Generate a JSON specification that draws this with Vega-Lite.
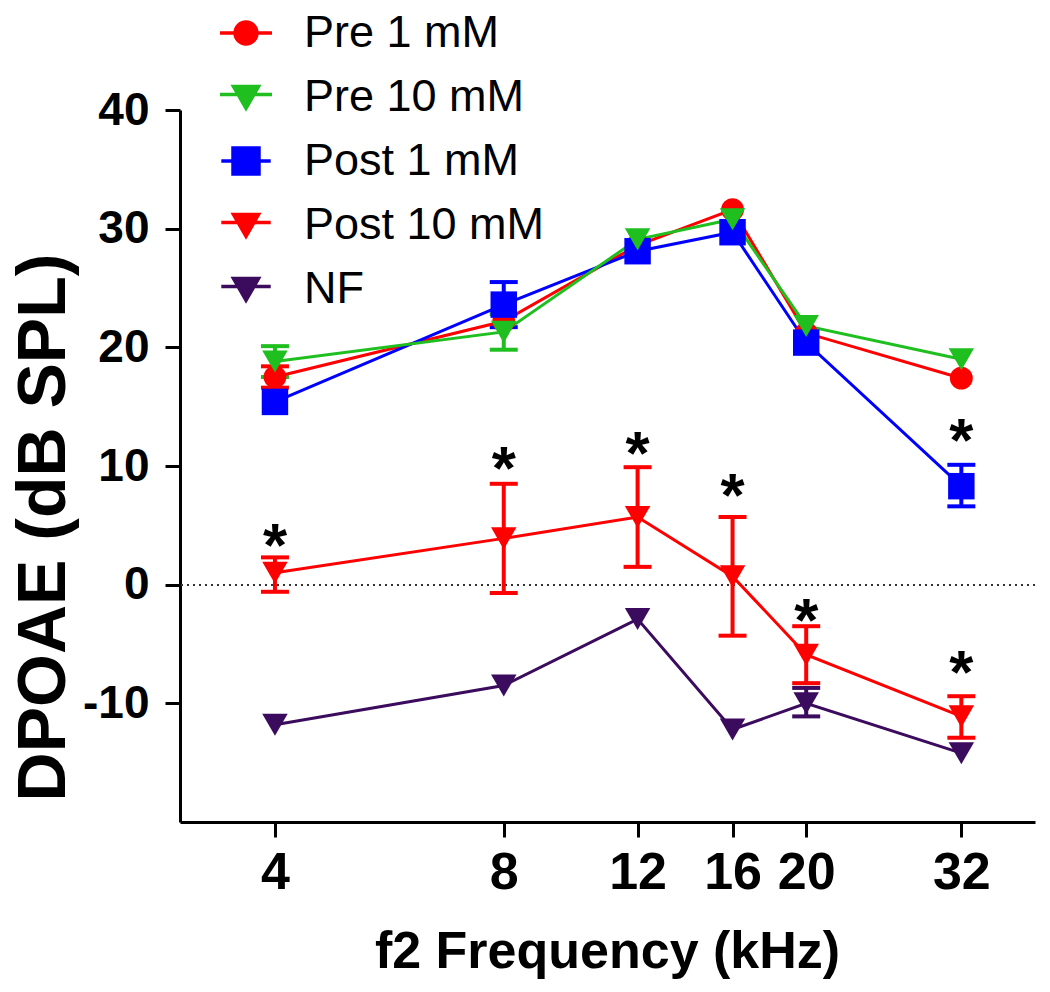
{
  "$schema": "https://vega.github.io/schema/vega-lite/v6.json",
  "autosize": {"type": "none"},
  "width": 855,
  "height": 712,
  "padding": {"left": 180, "top": 110, "right": 15, "bottom": 170},
  "background": "white",
  "config": {
    "view": {"stroke": null},
    "axis": {
      "domainColor": "black", "domainWidth": 3, "tickColor": "black", "tickWidth": 3, "tickSize": 15,
      "grid": false, "labelColor": "black", "titleColor": "black"
    },
    "legend": {
      "orient": "none", "legendX": 38, "legendY": -105, "padding": 0,
      "symbolSize": 2704, "symbolStrokeWidth": 3.5, "symbolOpacity": 1,
      "labelFont": "Liberation Sans", "labelFontSize": 45, "labelColor": "black", "labelOffset": 30,
      "rowPadding": 13, "labelLimit": 400
    }
  },
  "datasets": {
    "main": [
      {"series": "NF", "freq": 4, "mean": -11.8, "lo": null, "hi": null},
      {"series": "NF", "freq": 8, "mean": -8.5, "lo": null, "hi": null},
      {"series": "NF", "freq": 12, "mean": -2.9, "lo": null, "hi": null},
      {"series": "NF", "freq": 16, "mean": -12.2, "lo": null, "hi": null},
      {"series": "NF", "freq": 20, "mean": -10.0, "lo": -11.1, "hi": -8.7},
      {"series": "NF", "freq": 32, "mean": -14.2, "lo": null, "hi": null},
      {"series": "Post 10 mM", "freq": 4, "mean": 1.0, "lo": -0.6, "hi": 2.3},
      {"series": "Post 10 mM", "freq": 8, "mean": 3.9, "lo": -0.7, "hi": 8.5},
      {"series": "Post 10 mM", "freq": 12, "mean": 5.7, "lo": 1.5, "hi": 9.9},
      {"series": "Post 10 mM", "freq": 16, "mean": 0.7, "lo": -4.3, "hi": 5.7},
      {"series": "Post 10 mM", "freq": 20, "mean": -5.9, "lo": -8.3, "hi": -3.5},
      {"series": "Post 10 mM", "freq": 32, "mean": -11.1, "lo": -12.9, "hi": -9.4},
      {"series": "Pre 1 mM", "freq": 4, "mean": 17.5, "lo": 16.6, "hi": 18.4},
      {"series": "Pre 1 mM", "freq": 8, "mean": 22.2, "lo": null, "hi": null},
      {"series": "Pre 1 mM", "freq": 12, "mean": 28.6, "lo": null, "hi": null},
      {"series": "Pre 1 mM", "freq": 16, "mean": 31.6, "lo": null, "hi": null},
      {"series": "Pre 1 mM", "freq": 20, "mean": 21.2, "lo": null, "hi": null},
      {"series": "Pre 1 mM", "freq": 32, "mean": 17.4, "lo": null, "hi": null},
      {"series": "Post 1 mM", "freq": 4, "mean": 15.4, "lo": null, "hi": null},
      {"series": "Post 1 mM", "freq": 8, "mean": 23.6, "lo": 21.7, "hi": 25.5},
      {"series": "Post 1 mM", "freq": 12, "mean": 28.1, "lo": null, "hi": null},
      {"series": "Post 1 mM", "freq": 16, "mean": 29.7, "lo": null, "hi": null},
      {"series": "Post 1 mM", "freq": 20, "mean": 20.4, "lo": null, "hi": null},
      {"series": "Post 1 mM", "freq": 32, "mean": 8.3, "lo": 6.6, "hi": 10.1},
      {"series": "Pre 10 mM", "freq": 4, "mean": 18.8, "lo": 17.5, "hi": 20.1},
      {"series": "Pre 10 mM", "freq": 8, "mean": 21.3, "lo": 19.8, "hi": 22.8},
      {"series": "Pre 10 mM", "freq": 12, "mean": 29.1, "lo": null, "hi": null},
      {"series": "Pre 10 mM", "freq": 16, "mean": 30.8, "lo": null, "hi": null},
      {"series": "Pre 10 mM", "freq": 20, "mean": 21.8, "lo": null, "hi": null},
      {"series": "Pre 10 mM", "freq": 32, "mean": 19.0, "lo": null, "hi": null}
    ],
    "stars": [
      {"freq": 4, "pos": 4.5},
      {"freq": 8, "pos": 11.0},
      {"freq": 12, "pos": 12.3},
      {"freq": 16, "pos": 8.7},
      {"freq": 20, "pos": -1.8},
      {"freq": 32, "pos": -6.2},
      {"freq": 32, "pos": 13.4}
    ]
  },
  "data": {"name": "main"},
  "encoding": {
    "x": {
      "field": "freq", "type": "quantitative",
      "scale": {"type": "log", "base": 2, "domain": [3, 40], "nice": false},
      "axis": {
        "values": [4, 8, 12, 16, 20, 32], "title": "f2 Frequency (kHz)",
        "labelFont": "Liberation Sans", "labelFontWeight": "bold", "labelFontSize": 52,
        "labelPadding": 10, "labelFlush": false, "labelOverlap": false,
        "titleFont": "Liberation Sans", "titleFontWeight": "bold", "titleFontSize": 52,
        "titleBaseline": "alphabetic", "titleX": 427, "titleY": 145, "titleAlign": "center"
      }
    },
    "y": {
      "type": "quantitative",
      "scale": {"domain": [-20, 40], "nice": false, "zero": false},
      "axis": {
        "values": [-10, 0, 10, 20, 30, 40], "title": "DPOAE (dB SPL)", "labelExpr": "replace(datum.label, '−', '-')",
        "labelFont": "Liberation Sans", "labelFontWeight": "bold", "labelFontSize": 46, "labelPadding": 16,
        "labelFlush": false, "labelOverlap": false,
        "titleFont": "Liberation Sans", "titleFontWeight": "bold", "titleFontSize": 68,
        "titleAngle": 270, "titleBaseline": "alphabetic", "titleAlign": "center", "titleX": -116, "titleY": 417
      }
    }
  },
  "layer": [
    {
      "mark": {"type": "rule", "strokeDash": [2, 4], "strokeWidth": 1.5, "color": "#333333"},
      "encoding": {"y": {"datum": 0}, "x": null}
    },
    {
      "mark": {"type": "rule", "strokeWidth": 4},
      "encoding": {
        "y": {"field": "lo"}, "y2": {"field": "hi"},
        "color": {"field": "series", "type": "nominal", "legend": null,
          "scale": {"range": ["#3B0B5E", "#0000FF", "#FF0000", "#FF0000", "#1FBF1F"]}}
      }
    },
    {
      "mark": {"type": "tick", "orient": "horizontal", "size": 28, "thickness": 4, "opacity": 1},
      "encoding": {"y": {"field": "lo"}, "color": {"field": "series", "type": "nominal", "legend": null}}
    },
    {
      "mark": {"type": "tick", "orient": "horizontal", "size": 28, "thickness": 4, "opacity": 1},
      "encoding": {"y": {"field": "hi"}, "color": {"field": "series", "type": "nominal", "legend": null}}
    },
    {
      "mark": {"type": "line", "strokeWidth": 3},
      "encoding": {"y": {"field": "mean"}, "color": {"field": "series", "type": "nominal", "legend": null}}
    },
    {
      "transform": [{"filter": "datum.series === 'Pre 1 mM'"}],
      "mark": {"type": "point", "filled": true, "shape": "circle", "size": 520, "opacity": 1},
      "encoding": {"y": {"field": "mean"}, "color": {"field": "series", "type": "nominal", "legend": null}}
    },
    {
      "transform": [{"filter": "datum.series === 'Post 1 mM'"}],
      "mark": {"type": "point", "filled": true, "shape": "square", "size": 700, "opacity": 1},
      "encoding": {"y": {"field": "mean"}, "color": {"field": "series", "type": "nominal", "legend": null}}
    },
    {
      "transform": [{"filter": "datum.series === 'NF' || datum.series === 'Post 10 mM' || datum.series === 'Pre 10 mM'"}],
      "mark": {"type": "point", "filled": true, "shape": "triangle-down", "size": 650, "opacity": 1},
      "encoding": {"y": {"field": "mean"}, "color": {"field": "series", "type": "nominal", "legend": null}}
    },
    {
      "mark": {"type": "point", "filled": true, "opacity": 0, "strokeWidth": 3.5},
      "encoding": {
        "y": {"field": "mean"},
        "fill": {"field": "series", "type": "nominal", "title": null,
          "scale": {"domain": ["Pre 1 mM", "Pre 10 mM", "Post 1 mM", "Post 10 mM", "NF"], "range": ["#FF0000", "#1FBF1F", "#0000FF", "#FF0000", "#3B0B5E"]}},
        "stroke": {"field": "series", "type": "nominal", "title": null,
          "scale": {"domain": ["Pre 1 mM", "Pre 10 mM", "Post 1 mM", "Post 10 mM", "NF"], "range": ["#FF0000", "#1FBF1F", "#0000FF", "#FF0000", "#3B0B5E"]}},
        "shape": {"field": "series", "type": "nominal", "title": null,
          "scale": {"domain": ["Pre 1 mM", "Pre 10 mM", "Post 1 mM", "Post 10 mM", "NF"],
            "range": [
              "M-0.42,0A0.42,0.42 0 1,0 0.42,0A0.42,0.42 0 1,0 -0.42,0ZM-1,0H1",
              "M-0.48,-0.4L0.48,-0.4L0,0.43ZM-1,-0.1H1",
              "M-0.5,-0.5H0.5V0.5H-0.5ZM-0.95,0H0.95",
              "M-0.48,-0.4L0.48,-0.4L0,0.43ZM-0.95,-0.1H0.95",
              "M-0.48,-0.4L0.48,-0.4L0,0.43ZM-0.95,-0.1H0.95"
            ]}}
      }
    },
    {
      "data": {"name": "stars"},
      "mark": {"type": "text", "text": "*", "font": "Liberation Sans", "fontWeight": "bold", "fontSize": 62, "baseline": "alphabetic", "dy": 35, "color": "black"},
      "encoding": {"y": {"field": "pos"}}
    }
  ]
}
